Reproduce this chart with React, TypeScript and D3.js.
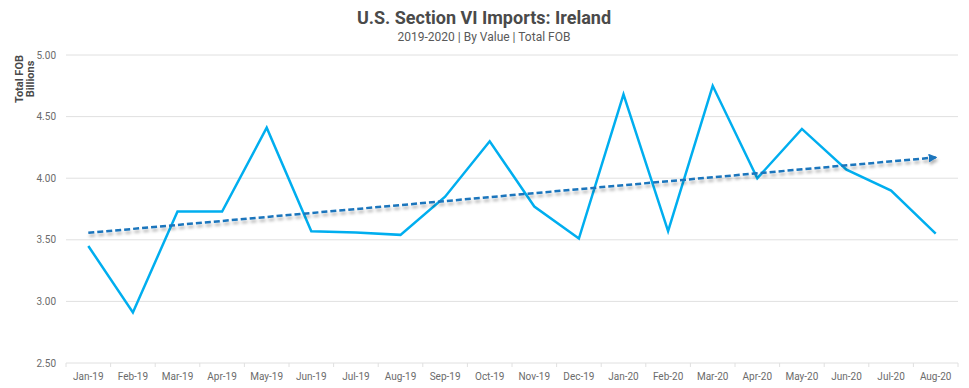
import React, { useEffect, useRef } from 'react';
import * as d3 from 'd3';

const months = [
  'Jan-19', 'Feb-19', 'Mar-19', 'Apr-19', 'May-19', 'Jun-19', 'Jul-19', 'Aug-19', 'Sep-19', 'Oct-19',
  'Nov-19', 'Dec-19', 'Jan-20', 'Feb-20', 'Mar-20', 'Apr-20', 'May-20', 'Jun-20', 'Jul-20', 'Aug-20',
];
const imports = [
  3.45, 2.91, 3.73, 3.73, 4.41, 3.57, 3.56, 3.54, 3.85, 4.30,
  3.77, 3.51, 4.68, 3.57, 4.75, 4.00, 4.40, 4.07, 3.90, 3.55,
];
const yTicks = [2.5, 3.0, 3.5, 4.0, 4.5, 5.0];

const App = () => {
  const svgRef = useRef<SVGSVGElement>(null);

  useEffect(() => {
    const width = 969;
    const height = 388;
    const margin = { top: 55, right: 11, bottom: 25, left: 66 };

    const svg = d3.select(svgRef.current);
    svg.selectAll('*').remove();
    svg.attr('width', width).attr('height', height);

    const font = 'Roboto, sans-serif';

    const x = d3.scaleBand<string>()
      .domain(months)
      .range([margin.left, width - margin.right]);

    const y = d3.scaleLinear()
      .domain([2.5, 5])
      .range([height - margin.bottom, margin.top]);

    // defs: arrow + shadow
    const defs = svg.append('defs');
    defs.append('marker')
      .attr('id', 'arrow')
      .attr('viewBox', '0 0 10 10')
      .attr('refX', 8)
      .attr('refY', 5)
      .attr('markerWidth', 3.5)
      .attr('markerHeight', 3.5)
      .attr('orient', 'auto')
      .append('path')
      .attr('d', 'M0,0 L10,5 L0,10 z')
      .attr('fill', '#1a75bc');
    const filter = defs.append('filter')
      .attr('id', 'shadow')
      .attr('x', '-10%').attr('y', '-200%')
      .attr('width', '120%').attr('height', '500%');
    filter.append('feDropShadow')
      .attr('dx', 1).attr('dy', 3)
      .attr('stdDeviation', 1.5)
      .attr('flood-color', '#000')
      .attr('flood-opacity', 0.3);

    // gridlines
    svg.append('g')
      .selectAll('line')
      .data(yTicks)
      .enter()
      .append('line')
      .attr('x1', margin.left)
      .attr('x2', width - margin.right)
      .attr('y1', d => y(d))
      .attr('y2', d => y(d))
      .attr('stroke', '#e0e0e0')
      .attr('stroke-width', 1);

    // y tick labels
    svg.append('g')
      .selectAll('text')
      .data(yTicks)
      .enter()
      .append('text')
      .attr('x', margin.left - 10)
      .attr('y', d => y(d) + 3.5)
      .attr('text-anchor', 'end')
      .attr('font-family', font)
      .attr('font-size', 10)
      .attr('fill', '#6b6b6b')
      .text(d => d.toFixed(2));

    // x axis ticks
    const baseY = y(2.5);
    const tickPos = months.map(m => x(m) as number).concat([width - margin.right]);
    svg.append('g')
      .selectAll('line')
      .data(tickPos)
      .enter()
      .append('line')
      .attr('x1', d => d)
      .attr('x2', d => d)
      .attr('y1', baseY)
      .attr('y2', baseY + 4)
      .attr('stroke', '#e0e0e0');

    svg.append('g')
      .selectAll('text')
      .data(months)
      .enter()
      .append('text')
      .attr('x', d => (x(d) as number) + x.bandwidth() / 2)
      .attr('y', baseY + 17)
      .attr('text-anchor', 'middle')
      .attr('font-family', font)
      .attr('font-size', 10)
      .attr('fill', '#6b6b6b')
      .text(d => d);

    // main line
    const cx = (i: number) => (x(months[i]) as number) + x.bandwidth() / 2;
    const line = d3.line<number>()
      .x((d, i) => cx(i))
      .y(d => y(d));

    svg.append('path')
      .datum(imports)
      .attr('d', line)
      .attr('fill', 'none')
      .attr('stroke', '#00aeef')
      .attr('stroke-width', 2.5)
      .attr('stroke-linejoin', 'miter');

    // linear trend
    const n = imports.length;
    const xs = d3.range(n);
    const mx = d3.mean(xs) as number;
    const my = d3.mean(imports) as number;
    const slope = d3.sum(xs, i => (i - mx) * (imports[i] - my)) / d3.sum(xs, i => (i - mx) ** 2);
    const icpt = my - slope * mx;

    svg.append('line')
      .attr('x1', cx(0))
      .attr('y1', y(icpt))
      .attr('x2', cx(n - 1))
      .attr('y2', y(icpt + slope * (n - 1)))
      .attr('stroke', '#1a75bc')
      .attr('stroke-width', 2.5)
      .attr('stroke-dasharray', '6,3')
      .attr('marker-end', 'url(#arrow)')
      .attr('filter', 'url(#shadow)');

    // titles
    svg.append('text')
      .attr('x', 484)
      .attr('y', 24)
      .attr('text-anchor', 'middle')
      .attr('font-family', font)
      .attr('font-size', 18)
      .attr('font-weight', 'bold')
      .attr('fill', '#4a4a4a')
      .text('U.S. Section VI Imports: Ireland');

    svg.append('text')
      .attr('x', 484)
      .attr('y', 41)
      .attr('text-anchor', 'middle')
      .attr('font-family', font)
      .attr('font-size', 12)
      .attr('fill', '#595959')
      .text('2019-2020 | By Value | Total FOB');

    const yTitle = svg.append('text')
      .attr('transform', 'translate(23,79) rotate(-90)')
      .attr('text-anchor', 'middle')
      .attr('font-family', font)
      .attr('font-size', 11)
      .attr('font-weight', 'bold')
      .attr('fill', '#4a4a4a');
    yTitle.append('tspan').attr('x', 0).attr('dy', 0).text('Total FOB');
    yTitle.append('tspan').attr('x', 0).attr('dy', 10.5).text('Billions');
  }, []);

  return (
    <svg ref={svgRef} style={{ position: 'absolute', left: 0, top: 0 }}></svg>
  );
};

export default App;
